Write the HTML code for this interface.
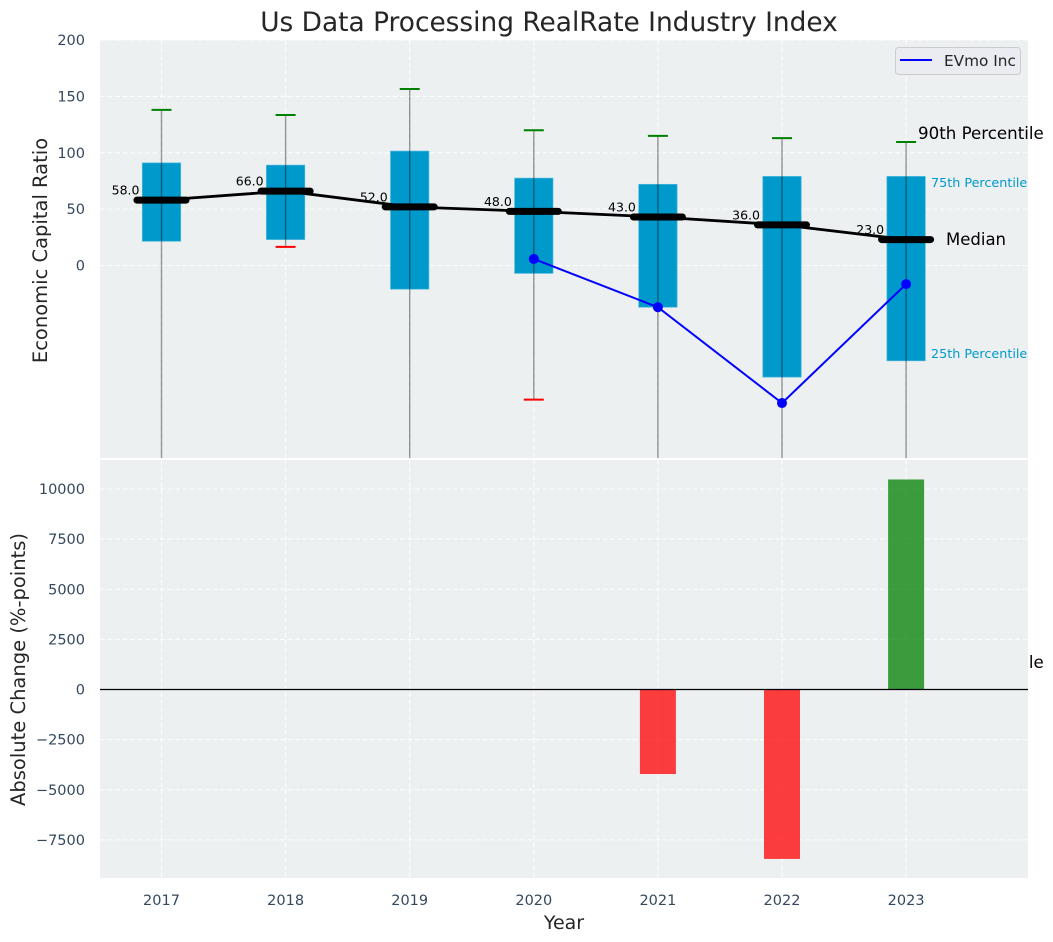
<!DOCTYPE html>
<html>
<head>
<meta charset="utf-8">
<title>Us Data Processing RealRate Industry Index</title>
<style>
html,body{margin:0;padding:0;background:#fff;width:1053px;height:942px;overflow:hidden}
svg{display:block;font-family:"DejaVu Sans","Liberation Sans",sans-serif}
</style>
</head>
<body>
<svg id="chart" xmlns="http://www.w3.org/2000/svg" width="1053" height="942" viewBox="0 0 1053 942">
<defs>
<clipPath id="top-clip"><rect x="100" y="40" width="928" height="418"/></clipPath>
<clipPath id="bottom-clip"><rect x="100" y="460" width="928" height="418"/></clipPath>
</defs>
</svg>
<script>
const years = [2017, 2018, 2019, 2020, 2021, 2022, 2023];
const p90 = [138, 133.5, 156.5, 120, 115, 113, 109.5];
const q3 = [91, 89, 101.5, 77.5, 72, 79, 79];
const medians = [58, 66, 52, 48, 43, 36, 23];
const q1 = [21.5, 23, -21, -7, -37, -99, -84.5];
const p10 = [-300, 16.5, -300, -119, -300, -300, -300];
const companyYears = [2020, 2021, 2022, 2023];
const companyValues = [5.8, -37, -122, -16.5];
const changeYears = [2021, 2022, 2023];
const changeValues = [-4215, -8450, 10475];
const topTicks = [0, 50, 100, 150, 200];
const bottomTicks = [-7500, -5000, -2500, 0, 2500, 5000, 7500, 10000];

const svg = document.getElementById('chart');
const NS = 'http://www.w3.org/2000/svg';
const xs = v => 161.5 + (v - 2017) * 124.1;
const yTop = v => 265.5 - v * 1.1275;
const yBot = v => 689.5 - v * 0.02005;

function make(tag, attrs, parent, text) {
  const el = document.createElementNS(NS, tag);
  for (const k in attrs) el.setAttribute(k, attrs[k]);
  if (text !== undefined) el.textContent = text;
  (parent || svg).appendChild(el);
  return el;
}
function group(clip) {
  const g = make('g', clip ? {'clip-path': 'url(#' + clip + ')'} : {});
  return g;
}
let el;

// top panel background
el = make('rect', {x: 100, y: 40, width: 928, height: 418, fill: '#ecf0f1'});



// annotation that sits behind the lower panel
el = make('text', {x: 918, y: 668, 'font-size': 16.67, fill: '#000'}, svg, '10th Percentile');



// bottom panel background
el = make('rect', {x: 100, y: 460, width: 928, height: 418, fill: '#ecf0f1'});



const gridStyle = {stroke: '#fff', 'stroke-width': 1.1, 'stroke-dasharray': '5 2.5', opacity: 0.9};
const topG = group('top-clip');
const botG = group('bottom-clip');

// grids
years.forEach(yr => {
  let g1 = make('line', Object.assign({x1: xs(yr), x2: xs(yr), y1: 40, y2: 458}, gridStyle), topG);
  
  
  let g2 = make('line', Object.assign({x1: xs(yr), x2: xs(yr), y1: 460, y2: 878}, gridStyle), botG);
  
  
  let t = make('text', {x: xs(yr), y: 905, 'font-size': 14.5, fill: '#34495e', 'text-anchor': 'middle'}, svg, yr);
  
  
});
topTicks.forEach(v => {
  let g = make('line', Object.assign({x1: 100, x2: 1028, y1: yTop(v), y2: yTop(v)}, gridStyle), topG);
  
  
  let t = make('text', {x: 85, y: yTop(v) + 5, 'font-size': 14.5, fill: '#34495e', 'text-anchor': 'end'}, svg, v);
  
  
});
bottomTicks.forEach(v => {
  let g = make('line', Object.assign({x1: 100, x2: 1028, y1: yBot(v), y2: yBot(v)}, gridStyle), botG);
  
  
  let t = make('text', {x: 85, y: yBot(v) + 5, 'font-size': 14.5, fill: '#34495e', 'text-anchor': 'end'}, svg, String(v).replace('-', '\u2212'));
  
  
});

// boxes
years.forEach((yr, i) => {
  let b = make('rect', {x: xs(yr) - 19.2, width: 38.4, y: yTop(q3[i]), height: yTop(q1[i]) - yTop(q3[i]), fill: '#0099cc', stroke: '#4db8dc', 'stroke-width': 0.7}, topG);
  
  
});

// median value labels
years.forEach((yr, i) => {
  let t = make('text', {x: xs(yr) - 22, y: yTop(medians[i]) - 5.5, 'font-size': 12.5, fill: '#000', 'text-anchor': 'end'}, topG, medians[i].toFixed(1));
  
  
});

// whiskers and caps
years.forEach((yr, i) => {
  let w = make('line', {x1: xs(yr), x2: xs(yr), y1: yTop(p90[i]), y2: yTop(p10[i]), stroke: '#000', 'stroke-opacity': 0.4, 'stroke-width': 1.4}, topG);
  
  
  let c = make('line', {x1: xs(yr) - 10, x2: xs(yr) + 10, y1: yTop(p90[i]), y2: yTop(p90[i]), stroke: '#008000', 'stroke-width': 2}, topG);
  
  
  let d = make('line', {x1: xs(yr) - 10, x2: xs(yr) + 10, y1: yTop(p10[i]), y2: yTop(p10[i]), stroke: '#ff0000', 'stroke-width': 2}, topG);
  
  
});

// median trend line
el = make('polyline', {points: years.map((yr, i) => xs(yr) + ',' + yTop(medians[i])).join(' '), fill: 'none', stroke: '#000', 'stroke-width': 2.8}, topG);


years.forEach((yr, i) => {
  let m = make('line', {x1: xs(yr) - 24.5, x2: xs(yr) + 24.5, y1: yTop(medians[i]), y2: yTop(medians[i]), stroke: '#000', 'stroke-width': 7, 'stroke-linecap': 'round'}, topG);
  
  
});

// company series
el = make('polyline', {points: companyYears.map((yr, i) => xs(yr) + ',' + yTop(companyValues[i])).join(' '), fill: 'none', stroke: '#0000ff', 'stroke-width': 2}, topG);


companyYears.forEach((yr, i) => {
  let p = make('circle', {cx: xs(yr), cy: yTop(companyValues[i]), r: 5, fill: '#0000ff'}, topG);
  
  
});

// change bars
changeYears.forEach((yr, i) => {
  const v = changeValues[i];
  const top = Math.min(yBot(v), yBot(0));
  const h = Math.abs(yBot(v) - yBot(0));
  let b = make('rect', {x: xs(yr) - 18, width: 36, y: top, height: h, fill: v < 0 ? '#ff0000' : '#008000', 'fill-opacity': 0.75}, botG);
  
  
});
el = make('line', {x1: 100, x2: 1028, y1: yBot(0), y2: yBot(0), stroke: '#000', 'stroke-width': 1.2}, botG);



// percentile annotations for the last year
el = make('text', {x: 918, y: 139, 'font-size': 16.67, fill: '#000'}, svg, '90th Percentile');


el = make('text', {x: 931, y: 187, 'font-size': 12.75, fill: '#0099cc'}, svg, '75th Percentile');


el = make('text', {x: 946, y: 245, 'font-size': 16.5, fill: '#000'}, svg, 'Median');


el = make('text', {x: 931, y: 358, 'font-size': 12.75, fill: '#0099cc'}, svg, '25th Percentile');



// legend
const legend = make('g', {});


el = make('rect', {x: 895.5, y: 47.5, width: 125, height: 27, rx: 3, fill: '#eaecf1', stroke: '#cccccc', 'stroke-width': 1}, legend);


el = make('line', {x1: 900, x2: 932, y1: 60, y2: 60, stroke: '#0000ff', 'stroke-width': 2}, legend);


el = make('text', {x: 944, y: 66, 'font-size': 15.3, fill: '#262626'}, legend, 'EVmo Inc');



// titles
el = make('text', {x: 549, y: 31, 'font-size': 26.4, fill: '#262626', 'text-anchor': 'middle'}, svg, 'Us Data Processing RealRate Industry Index');


el = make('text', {x: 564, y: 929, 'font-size': 19, fill: '#262626', 'text-anchor': 'middle'}, svg, 'Year');


el = make('text', {transform: 'translate(47,250.5) rotate(-90)', 'font-size': 19.5, fill: '#262626', 'text-anchor': 'middle'}, svg, 'Economic Capital Ratio');


el = make('text', {transform: 'translate(25,669.5) rotate(-90)', 'font-size': 19.5, fill: '#262626', 'text-anchor': 'middle'}, svg, 'Absolute Change (%-points)');


</script>
</body>
</html>
